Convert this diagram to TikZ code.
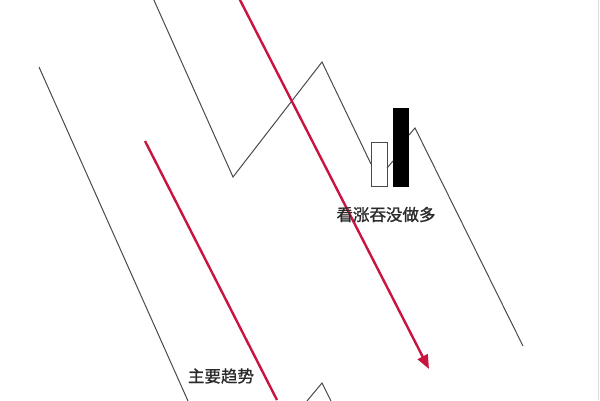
\documentclass[tikz,border=0pt]{standalone}
\usepackage{fontspec}
\newfontfamily\cjk[FakeBold=1.2]{Noto Sans CJK SC}
\usetikzlibrary{arrows.meta}
\definecolor{trendred}{HTML}{C8143F}
\definecolor{linegray}{HTML}{4A4A4A}
\definecolor{txtgray}{HTML}{2A2A2A}
\tikzset{
  pathline/.style={draw=linegray, line width=1pt, line join=miter},
  trendline/.style={draw=trendred, line width=2.4pt},
  candlewhite/.style={draw=linegray, line width=1pt, fill=white, minimum width=16pt, inner sep=0pt, outer sep=0pt},
  candleblack/.style={draw=black, line width=0.6pt, fill=black, minimum width=15pt, inner sep=0pt, outer sep=0pt},
  label/.style={font=\cjk\fontsize{16.5}{18}\selectfont, text=txtgray, inner sep=0pt}
}
\begin{document}
\begin{tikzpicture}[x=1pt,y=-1pt]
\useasboundingbox (0,0) rectangle (600,400);
\fill[white] (0,0) rectangle (600,400);
\draw[black!12, line width=0.8pt] (598.5,0) -- (598.5,400);
% candles
\node[candlewhite, minimum height=44.4pt] (wc) at (379,164.5) {};
\node[candleblack, minimum height=77.7pt] (bc) at (401,147.2) {};
% coordinates of the zig-zag price path
\coordinate (z0) at (153,-2);
\coordinate (z1) at (233,177);
\coordinate (z2) at (322,62);
\coordinate (z3) at (371,164);
\coordinate (z4) at (387,168);
\coordinate (z5) at (393,161);
\coordinate (z6) at (409,135);
\coordinate (z7) at (415,128);
\coordinate (z8) at (523,346);
\draw[pathline] (z0) -- (z1) -- (z2) -- (z3);
\draw[pathline] (z4) -- (z5);
\draw[pathline] (z6) -- (z7) -- (z8);
% left line
\coordinate (l0) at (39,67);
\coordinate (l1) at (188,401);
\draw[pathline] (l0) -- (l1);
% bottom small peak
\coordinate (b0) at (307,401);
\coordinate (b1) at (322,383);
\coordinate (b2) at (331,401);
\draw[pathline] (b0) -- (b1) -- (b2);
% red trend lines
\coordinate (r0) at (145,141);
\coordinate (r1) at (277,400);
\draw[trendline] (r0) -- (r1);
\coordinate (r2) at (239.5,-1);
\coordinate (r3) at (429,369);
\draw[trendline, -{Triangle[length=14pt,width=11pt]}] (r2) -- (r3);
% labels
\node[label] (t1) at (386,214.5) {看涨吞没做多};
\node[label] (t2) at (221,376) {主要趋势};
\end{tikzpicture}
\end{document}
